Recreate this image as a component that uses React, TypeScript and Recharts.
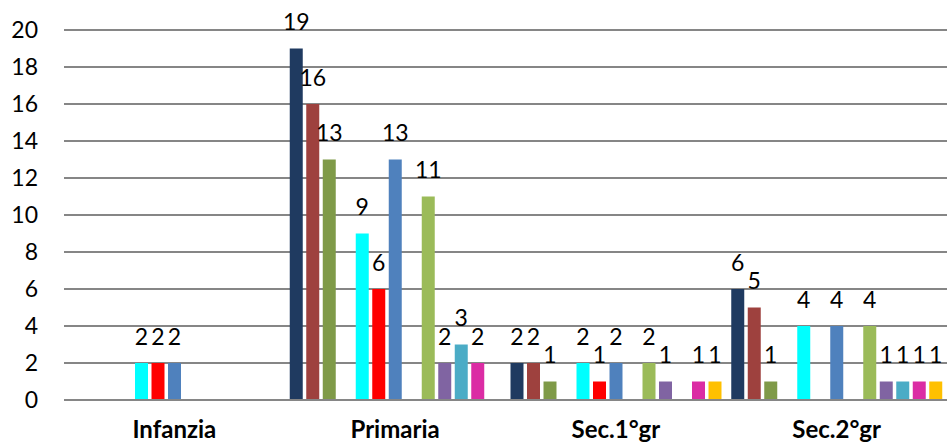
import { Bar, BarChart, CartesianGrid, LabelList, XAxis, YAxis } from 'recharts';

const CATEGORIES = ['Infanzia', 'Primaria', 'Sec.1°gr', 'Sec.2°gr'];
const Y_TICKS = [0, 2, 4, 6, 8, 10, 12, 14, 16, 18, 20];

// one array per series, in slot order (null = no bar in that category)
const NAVY = [null, 19, 2, 6];
const BROWN = [null, 16, 2, 5];
const OLIVE = [null, 13, 1, 1];
const EMPTY_A = [null, null, null, null];
const CYAN = [2, 9, 2, 4];
const RED = [2, 6, 1, null];
const BLUE = [2, 13, 2, 4];
const EMPTY_B = [null, null, null, null];
const LIME = [null, 11, 2, 4];
const PURPLE = [null, 2, 1, 1];
const TEAL = [null, 3, null, 1];
const MAGENTA = [null, 2, 1, 1];
const ORANGE = [null, null, 1, 1];

const SERIES = [
  { key: 's0', values: NAVY, color: '#1F3A60' },
  { key: 's1', values: BROWN, color: '#9E413E' },
  { key: 's2', values: OLIVE, color: '#7F9A48' },
  { key: 's3', values: EMPTY_A, color: '#999999' },
  { key: 's4', values: CYAN, color: '#00FFFF' },
  { key: 's5', values: RED, color: '#FF0000' },
  { key: 's6', values: BLUE, color: '#4F81BD' },
  { key: 's7', values: EMPTY_B, color: '#999999' },
  { key: 's8', values: LIME, color: '#9BBB59' },
  { key: 's9', values: PURPLE, color: '#8064A2' },
  { key: 's10', values: TEAL, color: '#4BACC6' },
  { key: 's11', values: MAGENTA, color: '#DB2CA4' },
  { key: 's12', values: ORANGE, color: '#FFC000' },
];

const data = CATEGORIES.map((name, i) => {
  const row: Record<string, string | number | null> = { name };
  SERIES.forEach((s) => {
    row[s.key] = s.values[i];
  });
  return row;
});

const FONT = 'Lato, "Open Sans", sans-serif';

export default function App() {
  return (
    <div style={{ width: 947, height: 445, background: '#fff' }}>
      <style>{'body{margin:0}'}</style>
      <BarChart
        width={947}
        height={445}
        data={data}
        margin={{ top: 30, right: 0, left: 0, bottom: 0 }}
        barSize={13}
        barGap={3.5}
        style={{ fontFamily: FONT }}
      >
        <CartesianGrid vertical={false} stroke="#868686" strokeWidth={2} />
        <XAxis
          dataKey="name"
          height={45}
          tickLine={false}
          tickSize={0}
          tickMargin={21}
          axisLine={{ stroke: '#868686', strokeWidth: 2 }}
          tick={{ fill: '#000', fontSize: 24, fontWeight: 700 }}
          interval={0}
        />
        <YAxis
          width={64}
          domain={[0, 20]}
          ticks={Y_TICKS}
          interval={0}
          tickLine={false}
          tickSize={0}
          tickMargin={26}
          axisLine={false}
          tick={{ fill: '#000', fontSize: 23 }}
        />
        {SERIES.map((s) => (
          <Bar key={s.key} dataKey={s.key} fill={s.color} isAnimationActive={false}>
            <LabelList dataKey={s.key} position="top" offset={18.5} fill="#000" fontSize={23} />
          </Bar>
        ))}
      </BarChart>
    </div>
  );
}
